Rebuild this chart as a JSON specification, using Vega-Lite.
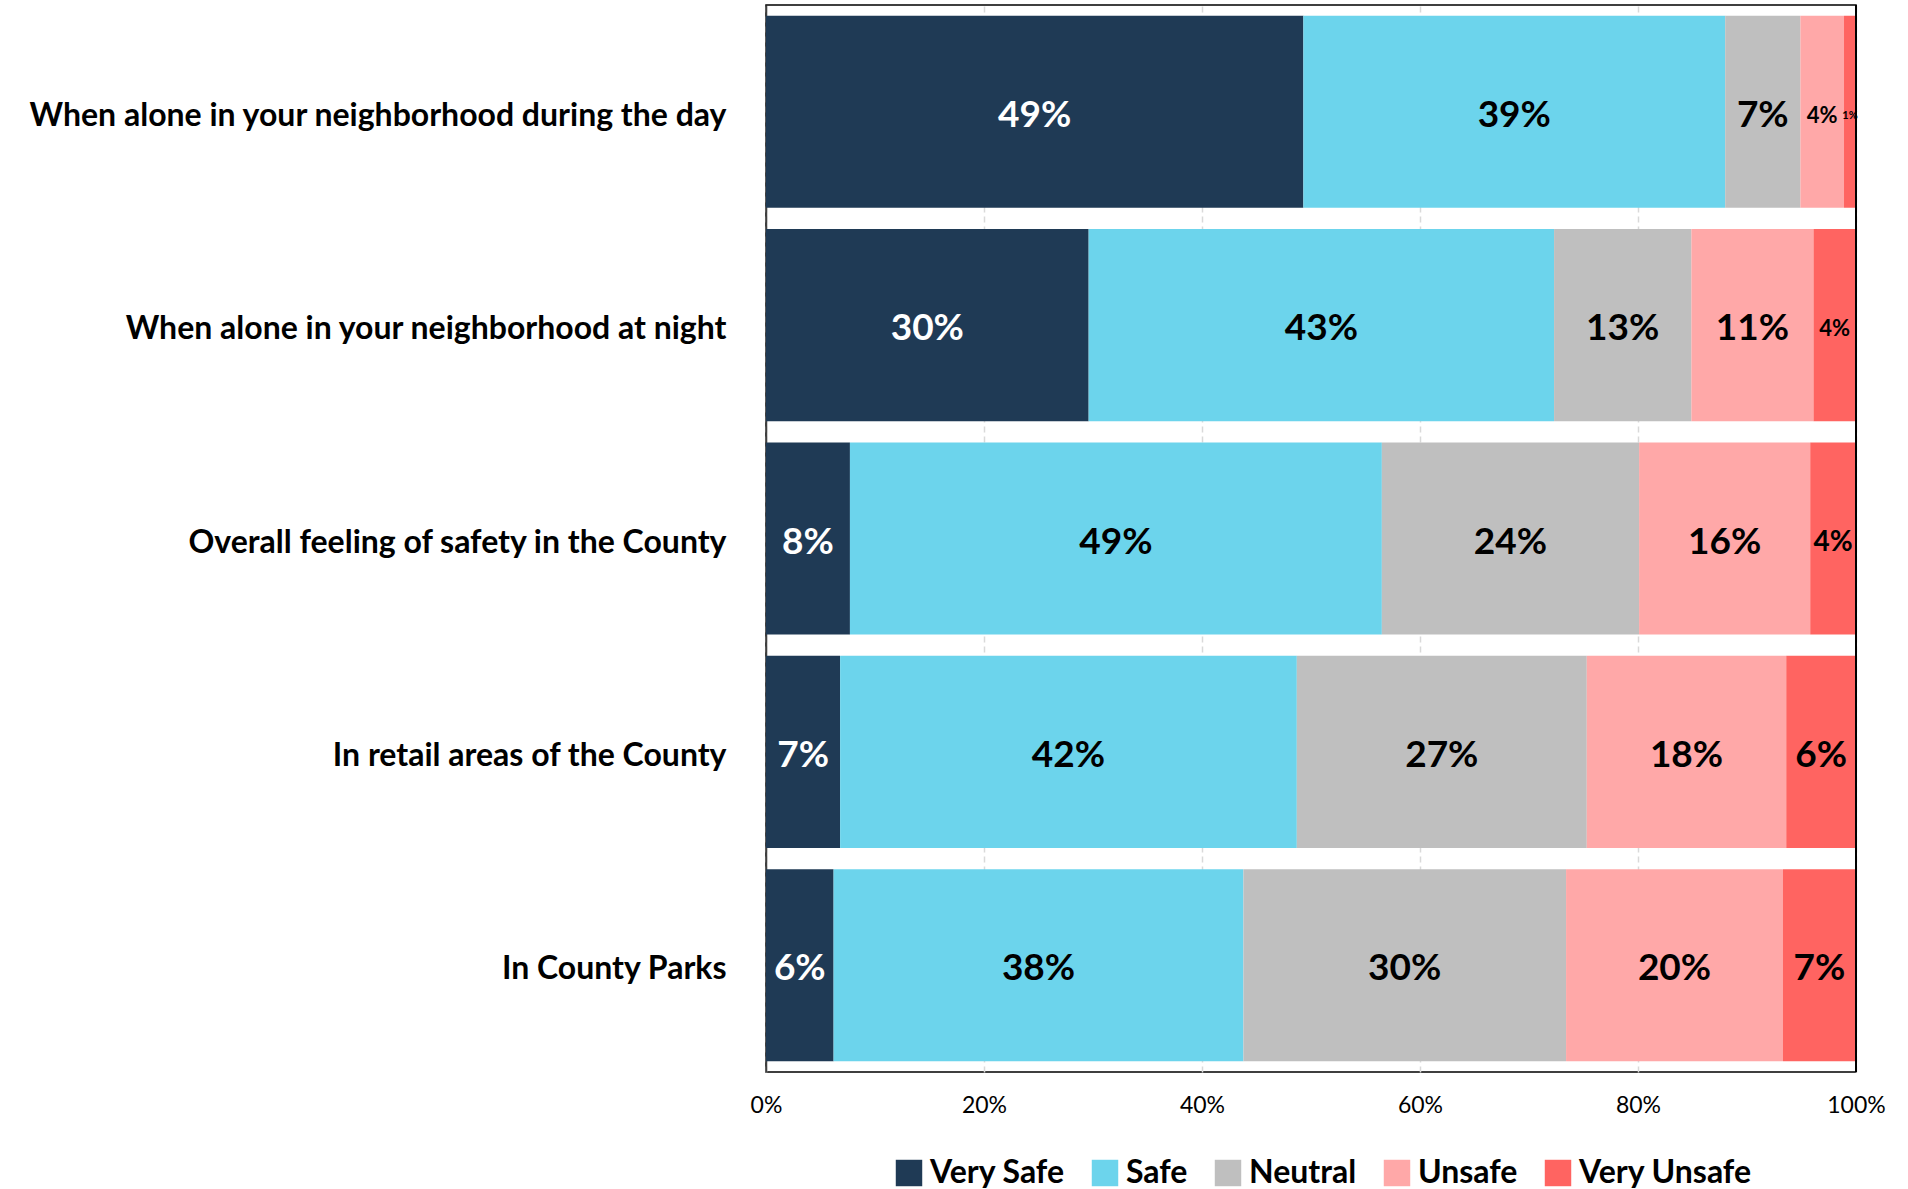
{
  "$schema": "https://vega.github.io/schema/vega-lite/v6.json",
  "width": 1090,
  "height": 1067,
  "autosize": {"type": "none"},
  "padding": {"left": 766, "top": 5, "right": 52, "bottom": 117},
  "background": "white",
  "data": {
    "values": [
      {"question": "When alone in your neighborhood during the day", "response": "Very Safe", "ord": 1, "value": 0.493},
      {"question": "When alone in your neighborhood during the day", "response": "Safe", "ord": 2, "value": 0.387},
      {"question": "When alone in your neighborhood during the day", "response": "Neutral", "ord": 3, "value": 0.069},
      {"question": "When alone in your neighborhood during the day", "response": "Unsafe", "ord": 4, "value": 0.040},
      {"question": "When alone in your neighborhood during the day", "response": "Very Unsafe", "ord": 5, "value": 0.011},
      {"question": "When alone in your neighborhood at night", "response": "Very Safe", "ord": 1, "value": 0.296},
      {"question": "When alone in your neighborhood at night", "response": "Safe", "ord": 2, "value": 0.427},
      {"question": "When alone in your neighborhood at night", "response": "Neutral", "ord": 3, "value": 0.126},
      {"question": "When alone in your neighborhood at night", "response": "Unsafe", "ord": 4, "value": 0.112},
      {"question": "When alone in your neighborhood at night", "response": "Very Unsafe", "ord": 5, "value": 0.039},
      {"question": "Overall feeling of safety in the County", "response": "Very Safe", "ord": 1, "value": 0.077},
      {"question": "Overall feeling of safety in the County", "response": "Safe", "ord": 2, "value": 0.488},
      {"question": "Overall feeling of safety in the County", "response": "Neutral", "ord": 3, "value": 0.236},
      {"question": "Overall feeling of safety in the County", "response": "Unsafe", "ord": 4, "value": 0.157},
      {"question": "Overall feeling of safety in the County", "response": "Very Unsafe", "ord": 5, "value": 0.042},
      {"question": "In retail areas of the County", "response": "Very Safe", "ord": 1, "value": 0.068},
      {"question": "In retail areas of the County", "response": "Safe", "ord": 2, "value": 0.419},
      {"question": "In retail areas of the County", "response": "Neutral", "ord": 3, "value": 0.266},
      {"question": "In retail areas of the County", "response": "Unsafe", "ord": 4, "value": 0.183},
      {"question": "In retail areas of the County", "response": "Very Unsafe", "ord": 5, "value": 0.064},
      {"question": "In County Parks", "response": "Very Safe", "ord": 1, "value": 0.062},
      {"question": "In County Parks", "response": "Safe", "ord": 2, "value": 0.376},
      {"question": "In County Parks", "response": "Neutral", "ord": 3, "value": 0.296},
      {"question": "In County Parks", "response": "Unsafe", "ord": 4, "value": 0.199},
      {"question": "In County Parks", "response": "Very Unsafe", "ord": 5, "value": 0.067}
    ]
  },
  "layer": [
    {
      "mark": {"type": "bar", "clip": true},
      "encoding": {
        "y": {
          "field": "question",
          "type": "nominal",
          "sort": null,
          "scale": {"paddingInner": 0.1, "paddingOuter": 0.05},
          "axis": {
            "title": null,
            "labelFont": "Lato",
            "labelFontWeight": "bold",
            "labelFontSize": 32,
            "labelColor": "black",
            "labelPadding": 40,
            "labelOffset": 4,
            "labelLimit": 900,
            "ticks": false,
            "domainColor": "#404040",
            "domainWidth": 1.5
          }
        },
        "x": {
          "field": "value",
          "type": "quantitative",
          "stack": "zero",
          "scale": {"domain": [0, 1], "nice": false},
          "axis": {
            "title": null,
            "format": ".0%",
            "values": [0, 0.2, 0.4, 0.6, 0.8, 1],
            "labelFont": "Lato",
            "labelFontSize": 23,
            "labelColor": "black",
            "labelPadding": 22,
            "labelFlush": false,
            "ticks": false,
            "domain": false,
            "grid": true,
            "gridColor": "#D9D9D9",
            "gridDash": [6, 4],
            "gridWidth": 1.5
          }
        },
        "color": {
          "field": "response",
          "type": "nominal",
          "scale": {
            "domain": ["Very Safe", "Safe", "Neutral", "Unsafe", "Very Unsafe"],
            "range": ["#1F3A55", "#6CD4EC", "#BFBFBF", "#FFA8A8", "#FF6461"]
          },
          "legend": {
            "orient": "none",
            "legendX": 127,
            "legendY": 1152,
            "direction": "horizontal",
            "title": null,
            "symbolType": "square",
            "symbolSize": 700,
            "symbolStrokeWidth": 0,
            "labelFont": "Lato",
            "labelFontWeight": "bold",
            "labelFontSize": 32,
            "labelLimit": 500,
            "labelColor": "black",
            "labelOffset": 5,
            "columnPadding": 24
          }
        },
        "order": {"field": "ord", "type": "quantitative"}
      }
    },
    {
      "mark": {"type": "text", "font": "Lato", "fontWeight": "bold", "baseline": "middle", "align": "center", "dy": 4},
      "encoding": {
        "y": {"field": "question", "type": "nominal", "sort": null},
        "x": {"field": "value", "type": "quantitative", "stack": "zero", "bandPosition": 0.5},
        "detail": {"field": "response"},
        "order": {"field": "ord", "type": "quantitative"},
        "text": {"field": "value", "format": ".0%"},
        "color": {
          "condition": {"test": "datum.response === 'Very Safe'", "value": "white"},
          "value": "black"
        },
        "size": {
          "condition": [
            {"test": "datum.value < 0.02", "value": 11},
            {"test": "datum.value < 0.041", "value": 22},
            {"test": "datum.value < 0.05", "value": 28}
          ],
          "value": 37
        }
      }
    },
    {
      "mark": {"type": "rule", "color": "black", "strokeWidth": 1.5},
      "encoding": {"x": {"datum": 1}}
    }
  ],
  "config": {
    "view": {"stroke": "black", "strokeWidth": 1.5}
  }
}
